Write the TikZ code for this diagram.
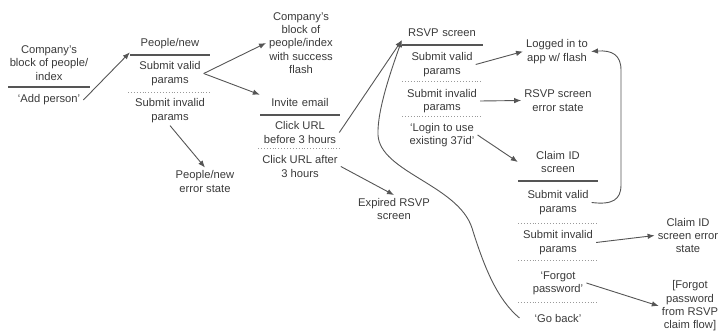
\documentclass[tikz,border=0pt]{standalone}
\usepackage{fontspec}
\setmainfont{Liberation Sans}
\usetikzlibrary{arrows.meta}
\definecolor{inkgray}{HTML}{3A3A3A}
\definecolor{linegray}{HTML}{555555}
\definecolor{dotgray}{HTML}{9A9A9A}
\begin{document}
\begin{tikzpicture}[x=1pt,y=-1pt,
  lbl/.style={align=center, text=inkgray, inner sep=3pt, font=\fontsize{11.2}{13.3}\selectfont},
  head/.style={lbl, text width=78pt, inner xsep=1pt},
  sepline/.style={draw=linegray, line width=1.1pt},
  dotline/.style={draw=dotgray, line width=0.9pt, dotted},
  flow/.style={draw=linegray, line width=0.9pt, -{Latex[length=7pt,width=5.5pt]}}]
\useasboundingbox (0,0) rectangle (721,331);
\node[lbl] (comp) at (49,63){Company's\\block of people/\\index};
\draw[sepline] (8,87) -- (90,87);
\node[lbl] (addp) at (49,100){`Add person'};
\node[head] (pnew) at (170,44){People/new};
\draw[sepline] (130,55) -- (210,55);
\node[lbl] (pvalid) at (170,73.5){Submit valid\\params};
\draw[dotline] (128,92) -- (210,92);
\node[lbl] (pinvalid) at (170,110.5){Submit invalid\\params};
\node[lbl] (perr) at (205,181.5){People/new\\error state};
\node[lbl] (succ) at (301,43){Company's\\block of\\people/index\\with success\\flash};
\node[head] (invite) at (300,102){Invite email};
\draw[sepline] (260,115) -- (340,115);
\node[lbl] (before) at (300,132.5){Click URL\\before 3 hours};
\draw[dotline] (258,148) -- (340,148);
\node[lbl] (after) at (300,166.5){Click URL after\\3 hours};
\node[lbl] (expired) at (394,209){Expired RSVP\\screen};
\node[head] (rsvp) at (442,33){RSVP screen};
\draw[sepline] (402,45) -- (483,45);
\node[lbl] (rvalid) at (442,64.5){Submit valid\\params};
\draw[dotline] (402,81) -- (483,81);
\node[lbl] (rinvalid) at (442,101){Submit invalid\\params};
\draw[dotline] (402,116) -- (483,116);
\node[lbl] (rlogin) at (442,135){`Login to use\\existing 37id'};
\node[lbl] (logged) at (557,51.5){Logged in to\\app w/ flash};
\node[lbl] (rerr) at (558,100.5){RSVP screen\\error state};
\node[head] (claim) at (558,162){Claim ID\\screen};
\draw[sepline] (518,181) -- (598,181);
\node[lbl] (cvalid) at (558,202.5){Submit valid\\params};
\draw[dotline] (518,223) -- (598,223);
\node[lbl] (cinvalid) at (558,242.5){Submit invalid\\params};
\draw[dotline] (518,260) -- (598,260);
\node[lbl] (cforgot) at (558,283){`Forgot\\password'};
\draw[dotline] (518,302) -- (598,302);
\node[lbl] (cback) at (558,318){`Go back'};
\node[lbl] (cerr) at (688,235.5){Claim ID\\screen error\\state};
\node[lbl] (forgot) at (690,306){[Forgot\\password\\from RSVP\\claim flow]};
\draw[flow] (addp.east) -- (pnew.south west);
\draw[flow] (pvalid.east) -- (succ.west);
\draw[flow] (pvalid.east) -- (invite.north west);
\draw[flow] (pinvalid.south) -- (perr.north);
\draw[flow] (before.east) -- (rsvp.south west);
\draw[flow] (after.east) -- (expired.north);
\draw[flow] (rvalid.east) -- (logged.west);
\draw[flow] (rinvalid.east) -- (rerr.west);
\draw[flow] (rlogin.east) -- (claim.west);
\draw[flow] (cvalid.east) .. controls (612,205) and (621,200) .. (621,185) -- (621,70) .. controls (621,55) and (612,50) .. (logged.east);
\draw[flow] (cinvalid.east) -- (cerr.west);
\draw[flow] (cforgot.east) -- (forgot.west);
\draw[flow] ([xshift=-12pt]cback.west) .. controls (498,300) and (485,270) .. (472,228) .. controls (458,185) and (380,172) .. (378,135) .. controls (377,110) and (392,68) .. (rsvp.south west);
\end{tikzpicture}
\end{document}
